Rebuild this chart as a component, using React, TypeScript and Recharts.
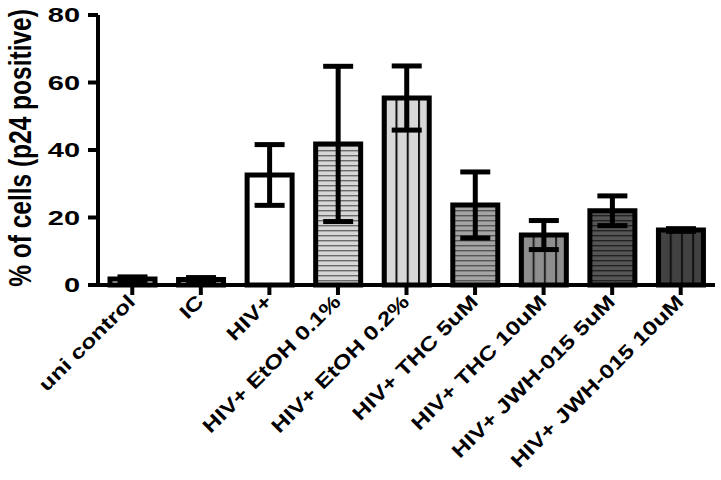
import React from 'react';
import { BarChart, Bar, XAxis, YAxis, ErrorBar, Cell } from 'recharts';

const categories = [
  'uni control',
  'IC',
  'HIV+',
  'HIV+ EtOH 0.1%',
  'HIV+ EtOH 0.2%',
  'HIV+ THC 5uM',
  'HIV+ THC 10uM',
  'HIV+ JWH-015 5uM',
  'HIV+ JWH-015 10uM',
];
const means = [1.8, 1.6, 32.6, 41.8, 55.4, 23.7, 14.8, 22.0, 16.3];
const errors = [0.6, 0.6, 9.0, 23.0, 9.5, 9.8, 4.3, 4.4, 0.4];
const yTicks = [0, 20, 40, 60, 80];

const fills = [
  '#ffffff',
  '#ffffff',
  '#ffffff',
  'url(#hLight)',
  'url(#vLight)',
  'url(#hMid)',
  'url(#vMid)',
  'url(#hDark)',
  'url(#vDark)',
];

const data = categories.map((name, i) => ({ name, value: means[i], err: errors[i] }));

const FONT = '"Liberation Sans", Arial, sans-serif';

function YTick(props: any) {
  const { x, y, payload } = props;
  return (
    <text
      transform={`translate(${x},${y + 7}) scale(1.45,1)`}
      textAnchor="end"
      fontFamily={FONT}
      fontWeight="bold"
      fontSize={20}
      fill="#000"
    >
      {payload.value}
    </text>
  );
}

function XTick(props: any) {
  const { x, y, payload } = props;
  return (
    <text
      transform={`translate(${x + 4},${y + 4}) rotate(-45) scale(1,0.8)`}
      textAnchor="end"
      fontFamily={FONT}
      fontWeight="bold"
      fontSize={24.5}
      fill="#000"
    >
      {payload.value}
    </text>
  );
}

function YLabel() {
  return (
    <text
      transform="translate(31,148) scale(1.3,1) rotate(-90)"
      textAnchor="middle"
      fontFamily={FONT}
      fontWeight="bold"
      fontSize={24.5}
      fill="#000"
    >
      % of cells (p24 positive)
    </text>
  );
}

function HLines({ id, bg, line }: { id: string; bg: string; line: string }) {
  return (
    <pattern id={id} patternUnits="userSpaceOnUse" width={8} height={5}>
      <rect width={8} height={5} fill={bg} />
      <rect y={0} width={8} height={1.4} fill={line} />
    </pattern>
  );
}

function VLines({ id, bg, line }: { id: string; bg: string; line: string }) {
  return (
    <pattern id={id} patternUnits="objectBoundingBox" patternContentUnits="objectBoundingBox" width={0.25} height={1}>
      <rect width={0.25} height={1} fill={bg} />
      <rect x={0} width={0.045} height={1} fill={line} />
    </pattern>
  );
}

export default function App() {
  return (
    <div style={{ position: 'absolute', left: 0, top: 0, background: '#fff' }}>
      <BarChart width={721} height={480} data={data} margin={{ top: 15, right: 6, bottom: 0, left: 0 }}>
        <defs>
          <HLines id="hLight" bg="#d6d6d6" line="#6a6a6a" />
          <VLines id="vLight" bg="#d8d8d8" line="#111" />
          <HLines id="hMid" bg="#a4a4a4" line="#555" />
          <VLines id="vMid" bg="#8e8e8e" line="#222" />
          <HLines id="hDark" bg="#555555" line="#222" />
          <VLines id="vDark" bg="#424242" line="#111" />
        </defs>
        <XAxis
          dataKey="name"
          interval={0}
          height={195}
          tick={<XTick />}
          tickSize={10}
          tickMargin={4}
          axisLine={{ stroke: '#000', strokeWidth: 4 }}
          tickLine={{ stroke: '#000', strokeWidth: 4 }}
        />
        <YAxis
          width={98}
          domain={[0, 80]}
          ticks={yTicks}
          tick={<YTick />}
          tickSize={10}
          tickMargin={8}
          axisLine={{ stroke: '#000', strokeWidth: 4 }}
          tickLine={{ stroke: '#000', strokeWidth: 4 }}
          label={<YLabel />}
        />
        <Bar dataKey="value" barSize={45} stroke="#000" strokeWidth={5} isAnimationActive={false}>
          {data.map((d, i) => (
            <Cell key={d.name} fill={fills[i]} />
          ))}
          <ErrorBar dataKey="err" width={15} strokeWidth={5} stroke="#000" />
        </Bar>
      </BarChart>
    </div>
  );
}
